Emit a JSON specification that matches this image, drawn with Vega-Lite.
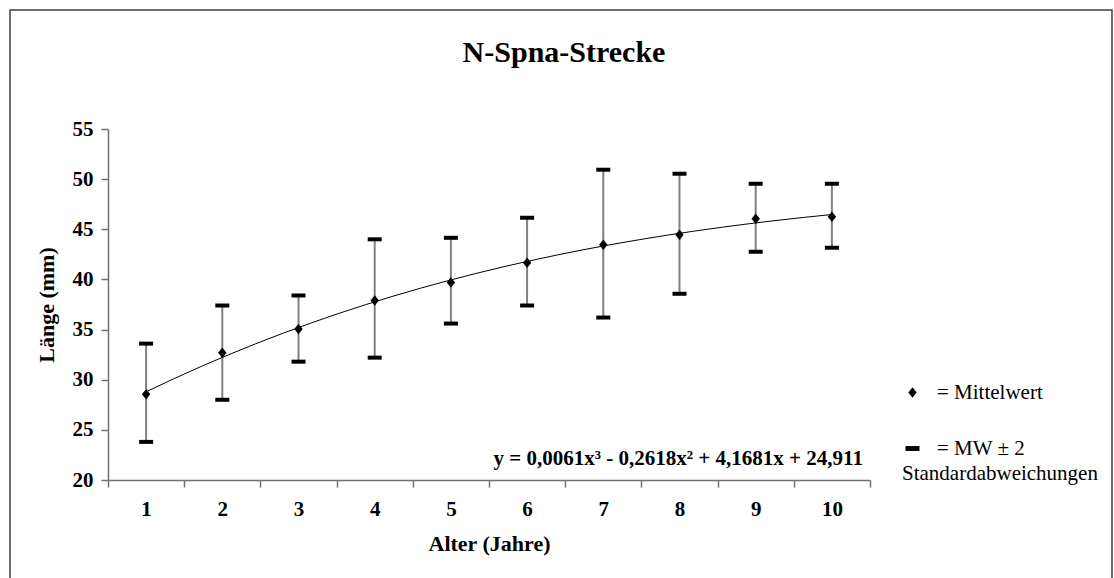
{
  "$schema": "https://vega.github.io/schema/vega-lite/v6.json",
  "width": 1102,
  "height": 580,
  "autosize": {"type": "none"},
  "padding": {"left": 10, "top": 10, "right": 2, "bottom": 0},
  "background": "white",
  "config": {
    "view": {"stroke": "#404040", "strokeWidth": 1.5},
    "font": "Liberation Serif",
    "text": {"font": "Liberation Serif"}
  },
  "title": {
    "text": "N-Spna-Strecke",
    "anchor": "middle",
    "frame": "group",
    "offset": -58,
    "dx": 3,
    "font": "Liberation Serif",
    "fontSize": 30,
    "fontWeight": "bold",
    "color": "black"
  },
  "data": {
    "values": [
      {"age": 1, "mean": 28.55, "lo": 23.8, "hi": 33.6},
      {"age": 2, "mean": 32.7, "lo": 28.0, "hi": 37.4},
      {"age": 3, "mean": 35.05, "lo": 31.8, "hi": 38.4},
      {"age": 4, "mean": 37.9, "lo": 32.2, "hi": 44.0},
      {"age": 5, "mean": 39.7, "lo": 35.6, "hi": 44.15},
      {"age": 6, "mean": 41.67, "lo": 37.4, "hi": 46.15},
      {"age": 7, "mean": 43.46, "lo": 36.2, "hi": 50.94},
      {"age": 8, "mean": 44.46, "lo": 38.57, "hi": 50.54},
      {"age": 9, "mean": 46.05, "lo": 42.76, "hi": 49.54},
      {"age": 10, "mean": 46.25, "lo": 43.16, "hi": 49.54}
    ]
  },
  "layer": [
    {
      "layer": [
        {
          "mark": {"type": "rule", "color": "#808080", "strokeWidth": 2},
          "encoding": {
            "x": {
              "field": "age",
              "type": "ordinal",
              "scale": {"range": [98, 860], "paddingInner": 0, "paddingOuter": 0},
              "axis": {
                "title": "Alter (Jahre)",
                "orient": "bottom",
                "offset": -110,
                "tickBand": "extent",
                "labelAngle": 0,
                "grid": false,
                "domainColor": "#707070",
                "domainWidth": 1.5,
                "tickColor": "#707070",
                "tickWidth": 1.5,
                "tickSize": 7,
                "labelFont": "Liberation Serif",
                "labelFontSize": 21,
                "labelFontWeight": "bold",
                "labelColor": "black",
                "labelPadding": 11,
                "titleFont": "Liberation Serif",
                "titleFontSize": 22,
                "titleFontWeight": "bold",
                "titleColor": "black",
                "titlePadding": 14
              }
            },
            "y": {
              "field": "lo",
              "type": "quantitative",
              "scale": {"domain": [20, 55], "range": [470, 119], "zero": false, "nice": false},
              "axis": {
                "title": "Länge (mm)",
                "values": [20, 25, 30, 35, 40, 45, 50, 55],
                "offset": -98,
                "grid": false,
                "domainColor": "#707070",
                "domainWidth": 1.5,
                "tickColor": "#707070",
                "tickWidth": 1.5,
                "tickSize": 7,
                "labelFont": "Liberation Serif",
                "labelFontSize": 21,
                "labelFontWeight": "bold",
                "labelColor": "black",
                "labelPadding": 8,
                "titleFont": "Liberation Serif",
                "titleFontSize": 22,
                "titleFontWeight": "bold",
                "titleColor": "black",
                "titlePadding": 14
              }
            },
            "y2": {"field": "hi"}
          }
        },
        {
          "mark": {"type": "tick", "orient": "horizontal", "color": "black", "size": 14, "thickness": 4, "opacity": 1},
          "encoding": {
            "x": {"field": "age", "type": "ordinal"},
            "y": {"field": "lo", "type": "quantitative"}
          }
        },
        {
          "mark": {"type": "tick", "orient": "horizontal", "color": "black", "size": 14, "thickness": 4, "opacity": 1},
          "encoding": {
            "x": {"field": "age", "type": "ordinal"},
            "y": {"field": "hi", "type": "quantitative"}
          }
        },
        {
          "mark": {"type": "point", "filled": true, "color": "black", "size": 196, "opacity": 1},
          "encoding": {
            "x": {"field": "age", "type": "ordinal"},
            "y": {"field": "mean", "type": "quantitative"},
            "shape": {
              "datum": "= Mittelwert",
              "type": "nominal",
              "scale": {
                "domain": ["= Mittelwert", "= MW ± 2"],
                "range": ["M0,-0.75L0.6,0L0,0.75L-0.6,0Z", "M-1,-0.35H1V0.35H-1Z"]
              },
              "legend": {
                "orient": "none",
                "legendX": 892,
                "legendY": 372,
                "title": "Standardabweichungen",
                "titleOrient": "bottom",
                "titleAnchor": "start",
                "titleFont": "Times New Roman, Liberation Serif, DejaVu Serif, serif",
                "titleFontSize": 21,
                "titleFontWeight": "normal",
                "titleColor": "black",
                "titlePadding": 4,
                "titleLimit": 0,
                "labelFont": "Times New Roman, Liberation Serif, DejaVu Serif, serif",
                "labelFontSize": 21,
                "labelFontWeight": "normal",
                "labelColor": "black",
                "labelLimit": 0,
                "labelOffset": 14,
                "rowPadding": 34,
                "symbolSize": 196,
                "symbolFillColor": "black",
                "symbolStrokeColor": "black",
                "symbolStrokeWidth": 0,
                "symbolOpacity": 1
              }
            }
          }
        },
        {
          "data": {"values": [{"label": "y = 0,0061x³ - 0,2618x² + 4,1681x + 24,911"}]},
          "mark": {
            "type": "text",
            "align": "right",
            "baseline": "middle",
            "dx": 31,
            "font": "Liberation Serif",
            "fontSize": 21,
            "fontWeight": "bold",
            "color": "black"
          },
          "encoding": {
            "x": {"datum": 10, "type": "ordinal"},
            "y": {"datum": 22.1, "type": "quantitative"},
            "text": {"field": "label", "type": "nominal"}
          }
        }
      ]
    },
    {
      "transform": [
        {"regression": "mean", "on": "age", "method": "poly", "order": 3, "extent": [1, 10]}
      ],
      "mark": {"type": "line", "color": "black", "strokeWidth": 1},
      "encoding": {
        "x": {
          "field": "age",
          "type": "quantitative",
          "scale": {"domain": [0.5, 10.5], "range": [98, 860], "nice": false, "zero": false},
          "axis": null
        },
        "y": {"field": "mean", "type": "quantitative"}
      }
    }
  ],
  "resolve": {"scale": {"x": "independent"}}
}
